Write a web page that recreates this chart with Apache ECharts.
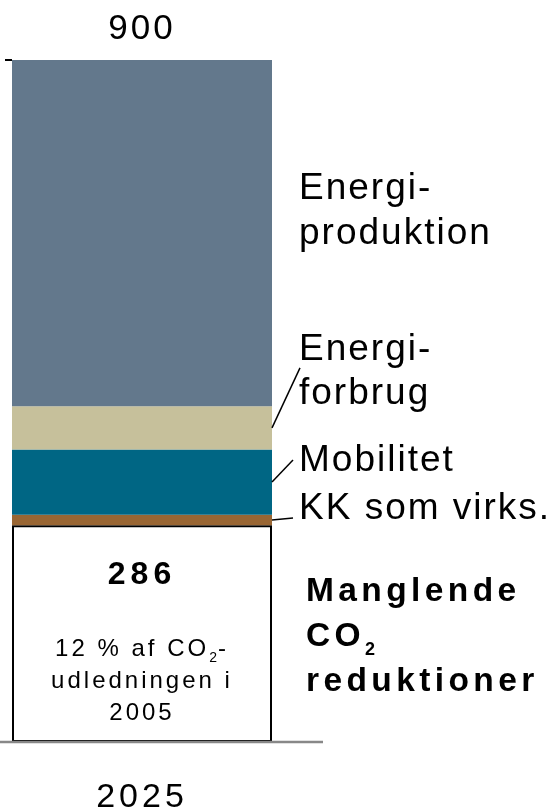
<!DOCTYPE html>
<html>
<head>
<meta charset="utf-8">
<script src="https://cdn.jsdelivr.net/npm/echarts@6/dist/echarts.min.js"></script>
<style>
  html, body { margin: 0; padding: 0; background: #fff; }
  #chart { width: 556px; height: 811px; }
</style>
</head>
<body>
<div id="chart"></div>
<script>
// data
const categories = ['2025'];
const manglende = [286];
const kkVirks = [14];
const mobilitet = [86];
const energiforbrug = [57];
const energiproduktion = [457];
const yMax = 900;

const FONT = 'Liberation Sans, Arial, sans-serif';

// the original text is set with wide character spacing; canvas can do that per font size
const SPACING = { '37': '2px', '35': '3px', '34': '4px', '32': '5px', '24': '3px', '14': '1px', '33.5': '4.4px' };
const fontDesc = Object.getOwnPropertyDescriptor(CanvasRenderingContext2D.prototype, 'font');
Object.defineProperty(CanvasRenderingContext2D.prototype, 'font', {
    configurable: true,
    get() { return fontDesc.get.call(this); },
    set(v) {
        fontDesc.set.call(this, v);
        const m = /(\d+(?:\.\d+)?)px/.exec(v);
        if ('letterSpacing' in this) this.letterSpacing = (m && SPACING[m[1]]) || '0px';
    }
});

const total = [manglende, kkVirks, mobilitet, energiforbrug, energiproduktion]
    .reduce((s, arr) => s + arr[0], 0);

const chart = echarts.init(document.getElementById('chart'), null, { renderer: 'canvas' });

const rightLabel = (text, dy, lh) => ({
    show: true,
    position: 'right',
    distance: 27,
    offset: [0, dy],
    formatter: text,
    fontSize: 37,
    lineHeight: lh,
    fontFamily: FONT,
    color: '#000',
});

chart.setOption({
    animation: false,
    backgroundColor: '#fff',
    textStyle: { fontFamily: FONT },
    grid: { left: 12, right: 284, top: 60, bottom: 69, containLabel: false, outerBoundsMode: 'none' },
    xAxis: {
        type: 'category',
        data: categories,
        axisLine: { show: false },
        axisTick: { show: false },
        axisLabel: { fontSize: 34, margin: 37, color: '#000', fontFamily: FONT },
    },
    yAxis: {
        type: 'value',
        min: 0,
        max: yMax,
        interval: yMax,
        axisLine: { show: false },
        splitLine: { show: false },
        axisLabel: { show: false },
        axisTick: { show: true, length: 7, customValues: [yMax], lineStyle: { color: '#000', width: 2 } },
    },
    series: [
        {
            name: 'Manglende CO2 reduktioner',
            type: 'bar',
            stack: 'a',
            barWidth: '100%',
            data: manglende,
            itemStyle: { color: '#fff', borderColor: '#000', borderWidth: 2 },
            label: {
                show: true,
                position: 'insideTop',
                distance: 30,
                color: '#000',
                fontFamily: FONT,
                formatter: p => `{n|${p.value}}\n{gap| }\n{t|12 % af CO}{s|2}{t|-}\n{t|udledningen i}\n{t|2005}`,
                rich: {
                    n: { fontSize: 32, fontWeight: 'bold', lineHeight: 40, fontFamily: FONT },
                    gap: { fontSize: 10, lineHeight: 38.5 },
                    t: { fontSize: 24, lineHeight: 32, fontFamily: FONT },
                    s: { fontSize: 14, lineHeight: 26, verticalAlign: 'bottom', fontFamily: FONT },
                },
            },
        },
        {
            name: 'KK som virks.',
            type: 'bar',
            stack: 'a',
            data: kkVirks,
            itemStyle: { color: '#996633' },
            label: rightLabel('KK som virks.', -11, 40),
        },
        {
            name: 'Mobilitet',
            type: 'bar',
            stack: 'a',
            data: mobilitet,
            itemStyle: { color: '#006684' },
            label: rightLabel('Mobilitet', -21, 40),
        },
        {
            name: 'Energiforbrug',
            type: 'bar',
            stack: 'a',
            data: energiforbrug,
            itemStyle: { color: '#c6c09b' },
            label: rightLabel('Energi-\nforbrug', -56, 44),
        },
        {
            name: 'Energiproduktion',
            type: 'bar',
            stack: 'a',
            data: energiproduktion,
            itemStyle: { color: '#63788c' },
            label: rightLabel('Energi-\nproduktion', -21.5, 45),
        },
        {
            // carries only the total above the bar
            name: 'Total',
            type: 'bar',
            stack: 'a',
            data: [0],
            itemStyle: { color: 'transparent' },
            label: {
                show: true,
                position: 'top',
                distance: 12,
                fontSize: 35,
                color: '#000',
                fontFamily: FONT,
                formatter: () => String(total),
            },
        },
    ],
});

// baseline, leader lines and the bold note, placed from the axis scale
const yPx = v => chart.convertToPixel({ yAxisIndex: 0 }, v);
const barRight = 556 - 284;
const mid = (lo, hi) => yPx((lo + hi) / 2);
const c1 = manglende[0], c2 = c1 + kkVirks[0], c3 = c2 + mobilitet[0], c4 = c3 + energiforbrug[0];

const leader = (y0, dx, dy) => ({
    type: 'line',
    z: 100,
    shape: { x1: barRight, y1: y0, x2: barRight + dx, y2: y0 + dy },
    style: { stroke: '#000', lineWidth: 1.5 },
});

chart.setOption({
    graphic: [
        {
            type: 'line',
            z: 100,
            shape: { x1: 0, y1: yPx(0), x2: barRight + 51, y2: yPx(0) },
            style: { stroke: '#888', lineWidth: 2.5 },
        },
        leader(mid(c3, c4), 28, -60),
        leader(mid(c2, c3), 21, -22),
        leader(mid(c1, c2), 21, -2),
        {
            type: 'text',
            z: 100,
            x: barRight + 34,
            y: yPx(c1) + 44,
            style: {
                text: '{b|Manglende}\n{b|CO}{sub|2}\n{b|reduktioner}',
                verticalAlign: 'top',
                fill: '#000',
                rich: {
                    b: { fontSize: 33.5, fontWeight: 'bold', lineHeight: 45, fontFamily: FONT, fill: '#000' },
                    sub: { fontSize: 18, fontWeight: 'bold', lineHeight: 15, verticalAlign: 'bottom', fontFamily: FONT, fill: '#000' },
                },
            },
        },
    ],
});
</script>
</body>
</html>
